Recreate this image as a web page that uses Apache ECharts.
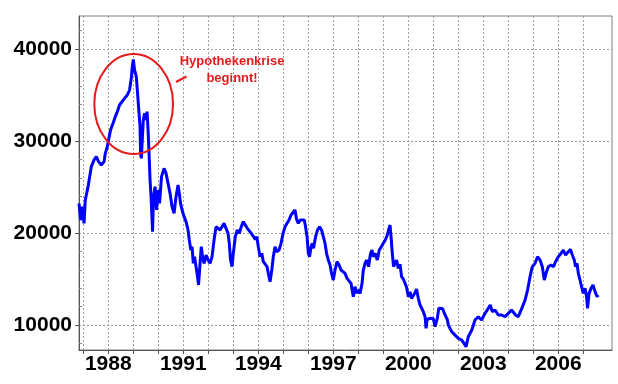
<!DOCTYPE html>
<html><head><meta charset="utf-8">
<script src="https://cdn.jsdelivr.net/npm/echarts@6/dist/echarts.min.js"></script>
<style>html,body{margin:0;padding:0;background:#fff}#c{width:618px;height:384px}</style>
</head><body><div id="c"></div><script>
const years = [
1986.83,1986.89,1986.95,1987.03,1987.08,1987.19,1987.32,1987.43,1987.52,1987.61,1987.72,1987.83,1987.88,1987.96,
1988.01,1988.09,1988.19,1988.28,1988.36,1988.45,1988.55,1988.65,1988.76,1988.85,1988.92,1988.96,
1989.00,1989.05,1989.12,1989.16,1989.21,1989.27,1989.29,1989.32,1989.36,1989.40,1989.45,1989.51,1989.55,1989.59,1989.63,1989.67,1989.71,1989.75,1989.77,1989.81,1989.87,1989.93,1989.99,
1990.05,1990.13,1990.23,1990.31,1990.39,1990.47,1990.55,1990.63,1990.71,1990.79,1990.84,1990.89,1990.95,
1991.03,1991.11,1991.19,1991.24,1991.30,1991.35,1991.40,1991.45,1991.51,1991.56,1991.61,1991.67,1991.72,1991.77,1991.83,1991.91,1991.99,
1992.07,1992.15,1992.23,1992.31,1992.39,1992.47,1992.55,1992.63,1992.71,1992.79,1992.84,1992.89,1992.95,
1993.00,1993.08,1993.16,1993.24,1993.32,1993.40,1993.48,1993.56,1993.64,1993.72,1993.80,1993.88,1993.94,
1994.00,1994.07,1994.14,1994.20,1994.27,1994.35,1994.40,1994.47,1994.54,1994.60,1994.67,1994.74,1994.83,1994.91,1994.99,
1995.07,1995.15,1995.23,1995.31,1995.39,1995.47,1995.52,1995.60,1995.68,1995.76,1995.84,1995.89,1995.95,
1996.00,1996.05,1996.11,1996.16,1996.21,1996.29,1996.37,1996.45,1996.53,1996.60,1996.67,1996.73,1996.80,1996.87,1996.93,
1997.00,1997.07,1997.15,1997.23,1997.31,1997.39,1997.47,1997.55,1997.63,1997.71,1997.77,1997.80,1997.87,1997.93,1997.98,
1998.07,1998.15,1998.20,1998.27,1998.33,1998.41,1998.49,1998.55,1998.60,1998.68,1998.76,1998.84,1998.92,
1999.00,1999.08,1999.16,1999.21,1999.27,1999.31,1999.36,1999.41,1999.47,1999.53,1999.60,1999.67,1999.73,1999.80,1999.87,1999.93,
2000.00,2000.07,2000.13,2000.20,2000.27,2000.33,2000.40,2000.47,2000.53,2000.60,2000.67,2000.71,2000.75,2000.80,2000.87,2000.93,
2001.00,2001.07,2001.16,2001.22,2001.29,2001.37,2001.47,2001.56,2001.60,2001.73,2001.87,
2002.00,2002.13,2002.23,2002.31,2002.40,2002.54,2002.67,2002.80,2002.93,
2003.07,2003.20,2003.28,2003.36,2003.47,2003.60,2003.73,2003.87,
2004.00,2004.13,2004.21,2004.29,2004.40,2004.54,2004.67,2004.77,2004.87,2004.96,
2005.07,2005.17,2005.27,2005.36,2005.44,2005.51,2005.60,2005.71,2005.81,2005.89,
2006.00,2006.11,2006.20,2006.29,2006.40,2006.49,2006.56,2006.64,2006.69,2006.75,2006.80,2006.87,2006.93,
2007.00,2007.07,2007.13,2007.17,2007.23,2007.31,2007.39,2007.47,2007.55,2007.60
];
const values = [
23225,21414,22863,21052,23588,25037,27211,27935,28298,27754,27392,27754,28660,29384,
30109,31196,31921,32645,33189,33913,34276,34638,35000,35544,36812,38080,
38877,37717,36993,35544,33732,31558,28660,28117,30109,32283,33008,32283,33189,31196,28660,25762,23950,21414,20146,23950,25037,22501,24674,
23225,26123,27028,26485,25398,24311,22862,22137,23949,25217,24311,23224,22499,
21775,21231,20326,19239,18152,18514,16702,17427,16340,15434,14347,16702,18514,17427,16702,17608,17065,
16702,17427,19239,20688,20869,20326,20688,21050,20869,19963,18876,17065,16340,
17790,19601,20326,19963,20688,21231,20869,20507,20326,19963,19782,19300,19601,
18514,17427,17790,16884,17065,16340,15616,14710,15978,17427,18514,17971,18152,18876,19963,
20688,21050,21412,21956,22137,22499,21594,21050,21412,21231,21412,20688,19601,
17790,17427,18514,18876,18333,19601,20326,20688,20326,19601,18876,17790,17065,16521,15616,
14891,15978,16884,16521,15978,16159,15616,15072,15254,14529,13500,13079,14166,13441,13804,
13441,14528,15977,16702,17064,16340,17789,18151,17427,17789,17064,18151,18514,
18876,19238,19782,20325,20869,19600,17789,16340,16702,17064,16159,16600,15253,15000,14528,14100,
13079,13600,12898,12717,13500,13900,12900,12173,12100,11449,10906,9637,10600,10543,10724,10906,
10700,9818,10724,11811,11992,11800,11087,10600,10000,9300,8900,
8550,8370,8000,7645,8731,9456,10543,10905,10543,
11267,11811,12173,11449,11630,11087,11087,10905,
11267,11630,11811,11087,10905,11811,12700,13800,15253,16340,
16702,17427,17064,16340,14890,15615,16340,16521,16340,16883,
17427,17789,18151,17608,17970,18224,17608,17064,16340,16702,15615,14890,14166,
13441,13985,13079,11811,13441,13985,14347,13622,13079,13260
];
const yTickValues = [10000, 20000, 30000, 40000];
const yMinorValues = [8000,12000,14000,16000,18000,22000,24000,26000,28000,32000,34000,36000,38000,42000];
const xTickYears = [1987,1988,1989,1990,1991,1992,1993,1994,1995,1996,1997,1998,1999,2000,2001,2002,2003,2004,2005,2006,2007];
const xLabelYears = [1988,1991,1994,1997,2000,2003,2006];
const noteLines = ['Hypothekenkrise', 'beginnt!'];

const X_MIN = 1986.828, X_MAX = 2008.148, Y_MIN = 7283, Y_MAX = 43587;
const FONT = '"Liberation Sans", Arial, sans-serif';
const RED = '#e51a1a';
const chart = echarts.init(document.getElementById('c'), null, {renderer: 'canvas'});
const data = years.map((y, i) => [y, values[i]]);
const gridLine = {show: true, lineStyle: {color: '#a0a0a0', width: 1, type: [2, 2]}};
chart.setOption({
  animation: false,
  backgroundColor: '#fff',
  grid: {left: 79, right: 6, top: 16, bottom: 34, show: true, borderColor: '#808080', borderWidth: 1, containLabel: false},
  xAxis: {
    type: 'value', min: X_MIN, max: X_MAX,
    axisLine: {show: true, lineStyle: {color: '#555', width: 1}},
    axisTick: {show: true, customValues: xTickYears, length: 4, lineStyle: {color: '#555'}},
    axisLabel: {customValues: xLabelYears, formatter: v => String(Math.round(v)), fontSize: 21, fontWeight: 'bold', color: '#000', fontFamily: FONT, margin: 4},
    splitLine: gridLine
  },
  yAxis: [{
    type: 'value', min: Y_MIN, max: Y_MAX, position: 'left',
    axisLine: {show: true, lineStyle: {color: '#555', width: 1}},
    axisTick: {show: true, customValues: yTickValues, length: 4, lineStyle: {color: '#555'}},
    axisLabel: {customValues: yTickValues, formatter: v => String(Math.round(v)), fontSize: 21, fontWeight: 'bold', color: '#000', fontFamily: FONT, margin: 7},
    splitLine: gridLine
  }, {
    type: 'value', min: Y_MIN, max: Y_MAX, position: 'left',
    axisLine: {show: false},
    axisTick: {show: true, inside: true, customValues: yMinorValues, length: 3, lineStyle: {color: '#888'}},
    axisLabel: {show: false},
    splitLine: {show: false}
  }],
  series: [{
    type: 'line', data: data, showSymbol: false, symbol: 'none',
    lineStyle: {color: '#0000ff', width: 3}, clip: true
  }]
});

function px(x, y) { return chart.convertToPixel({gridIndex: 0}, [x, y]); }
const eL = px(1987.44, 34022), eR = px(1990.59, 34022), eT = px(1989.0, 39457), eB = px(1989.0, 28587);
const t1 = px(1992.95, 38696), t2 = px(1992.95, 36848);
const d1 = px(1990.708, 36413), d2 = px(1991.128, 37011);
chart.setOption({
  graphic: [
    {type: 'ellipse', shape: {cx: (eL[0] + eR[0]) / 2, cy: (eT[1] + eB[1]) / 2, rx: (eR[0] - eL[0]) / 2, ry: (eB[1] - eT[1]) / 2},
     style: {fill: 'none', stroke: RED, lineWidth: 2}, z: 100},
    {type: 'text', x: t1[0], y: t1[1], style: {text: noteLines[0], fill: RED, font: 'bold 13px ' + FONT, textAlign: 'center', textVerticalAlign: 'middle'}, z: 100},
    {type: 'text', x: t2[0], y: t2[1], style: {text: noteLines[1], fill: RED, font: 'bold 13px ' + FONT, textAlign: 'center', textVerticalAlign: 'middle'}, z: 100},
    {type: 'line', shape: {x1: d1[0], y1: d1[1], x2: d2[0], y2: d2[1]}, style: {stroke: RED, lineWidth: 2}, z: 100}
  ]
});
</script></body></html>
